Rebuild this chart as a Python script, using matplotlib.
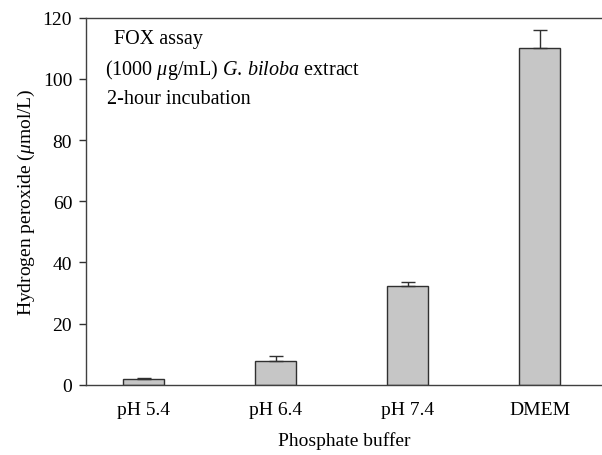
import numpy as np
import matplotlib
matplotlib.use('Agg')
import matplotlib.pyplot as plt

# data
categories = ['pH 5.4', 'pH 6.4', 'pH 7.4', 'DMEM']
h2o2 = [2.0, 7.8, 32.3, 110.2]
err = [0.3, 1.7, 1.2, 5.9]
yticks = [0, 20, 40, 60, 80, 100, 120]

plt.rcParams['font.family'] = ['Liberation Serif', 'DejaVu Serif']
plt.rcParams['mathtext.fontset'] = 'custom'
plt.rcParams['mathtext.rm'] = 'Liberation Serif'
plt.rcParams['mathtext.it'] = 'Liberation Serif:italic'
plt.rcParams['font.size'] = 14

fig = plt.figure(figsize=(6.02, 4.56), dpi=100)
ax = fig.add_axes([0.143, 0.154, 0.857, 0.805])

x = np.arange(len(categories))
ax.bar(x, h2o2, width=0.31, color='#c6c6c6', edgecolor='#303030', linewidth=1.0, zorder=2)
ax.errorbar(x, h2o2, yerr=[np.zeros(len(err)), err], fmt='none', ecolor='#303030',
            elinewidth=1.0, capsize=5, capthick=1.0, zorder=3)

ax.set_xlim(-0.435, 3.47)
ax.set_ylim(0, 120)
ax.set_yticks(yticks)
ax.set_xticks(x)
ax.set_xticklabels(categories)
ax.tick_params(axis='x', length=0, pad=12)
ax.tick_params(axis='y', direction='out', length=5, width=1.0, color='#303030', pad=5)
for s in ['left', 'bottom', 'top']:
    ax.spines[s].set_color('#404040')
    ax.spines[s].set_linewidth(1.0)
ax.spines['right'].set_visible(False)

ax.set_ylabel(r'Hydrogen peroxide ($\mathit{\mu}$mol/L)', labelpad=4)
ax.set_xlabel('Phosphate buffer', labelpad=9)

ax.text(0.054, 0.943, 'FOX assay', transform=ax.transAxes, va='center', ha='left',
        fontsize=14.5)
ax.text(0.037, 0.861, r'(1000 $\mathit{\mu}$g/mL) $\mathit{G.\,biloba}$ extract',
        transform=ax.transAxes, va='center', ha='left', fontsize=14.5)
ax.text(0.040, 0.779, '2-hour incubation', transform=ax.transAxes, va='center', ha='left',
        fontsize=14.5)

fig.savefig('out.png', dpi=100)
